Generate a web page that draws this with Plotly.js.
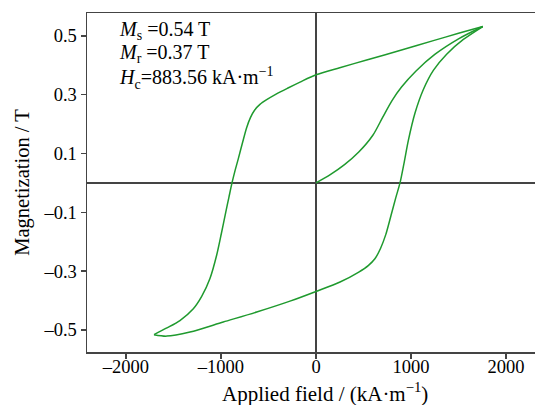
<!DOCTYPE html>
<html>
<head>
<meta charset="utf-8">
<script src="https://cdn.plot.ly/plotly-3.0.1.min.js"></script>
<style>
html,body{margin:0;padding:0;overflow:hidden;background:#fff;}
#chart{width:545px;height:405px;}
</style>
</head>
<body>
<div id="chart"></div>
<script>
// Descending (upper) branch of the loop, field in kA/m, magnetization in T
const upperH = [1755, 1500, 1235, 900, 533, 250, 0, -168, -300, -420, -519, -590, -645, -690, -730, -775, -818, -852, -884, -916, -950, -996, -1045, -1116, -1203, -1291, -1432, -1575, -1705];
const upperM = [0.532, 0.509, 0.484, 0.452, 0.418, 0.392, 0.368, 0.343, 0.322, 0.302, 0.283, 0.267, 0.248, 0.222, 0.188, 0.135, 0.082, 0.042, 0, -0.048, -0.1, -0.172, -0.245, -0.325, -0.386, -0.428, -0.468, -0.494, -0.516];
// Ascending (lower) branch
const lowerH = [-1705, -1572, -1326, -976, -624, -274, 0, 253, 450, 550, 620, 680, 735, 790, 840, 884, 925, 972, 1042, 1130, 1235, 1375, 1551, 1755];
const lowerM = [-0.516, -0.521, -0.507, -0.473, -0.439, -0.402, -0.369, -0.337, -0.303, -0.281, -0.258, -0.222, -0.175, -0.11, -0.05, 0, 0.065, 0.145, 0.238, 0.318, 0.383, 0.438, 0.488, 0.532];
// Initial magnetization curve
const initH = [0, 150, 300, 450, 600, 700, 800, 900, 1050, 1250, 1500, 1755];
const initM = [0, 0.028, 0.062, 0.105, 0.163, 0.222, 0.28, 0.326, 0.38, 0.437, 0.49, 0.532];

const xTicks = [-2000, -1000, 0, 1000, 2000];
const yTicks = [-0.5, -0.3, -0.1, 0.1, 0.3, 0.5];
const xTitle = "Applied field / (kA·m<sup>−1</sup>)";
const yTitle = "Magnetization / T";
const noteLines = [
  "<i>M</i><sub>s</sub> =0.54 T",
  "<i>M</i><sub>r</sub> =0.37 T",
  "<i>H</i><sub>c</sub>=883.56 kA·m<sup>−1</sup>"
];

const green = "#1f9a2e";
const lineStyle = {color: green, width: 1.5, shape: "spline", smoothing: 0.8};
const traces = [
  {x: upperH, y: upperM, mode: "lines", line: lineStyle, hoverinfo: "skip"},
  {x: lowerH, y: lowerM, mode: "lines", line: lineStyle, hoverinfo: "skip"},
  {x: initH, y: initM, mode: "lines", line: lineStyle, hoverinfo: "skip"}
];

const fam = "'Liberation Serif', 'Times New Roman', serif";
const tickFont = {family: fam, size: 18.5, color: "#000"};
const titleFont = {family: fam, size: 21, color: "#000"};
const yTitleFont = {family: fam, size: 20.5, color: "#000"};
const noteFont = {family: fam, size: 20, color: "#000"};
const axisColor = "#444";

const annotations = noteLines.map((t, i) => ({
  text: t, xref: "paper", yref: "paper",
  x: 0.066, y: 0.992 - i * 0.068,
  xanchor: "left", yanchor: "top", showarrow: false,
  font: noteFont
}));
annotations.push({
  text: xTitle, xref: "paper", yref: "paper",
  x: 0.522, y: -0.074, xanchor: "center", yanchor: "top",
  showarrow: false, font: titleFont
});

const layout = {
  width: 545, height: 405,
  margin: {l: 87, r: 2, t: 13, b: 53},
  paper_bgcolor: "#fff", plot_bgcolor: "#fff",
  showlegend: false,
  font: tickFont,
  xaxis: {
    range: [-2410, 2389],
    tickvals: xTicks,
    ticktext: xTicks.map(v => v < 0 ? "–" + Math.abs(v) : String(v)),
    ticks: "outside", ticklen: 5, tickwidth: 1.3, tickcolor: axisColor,
    ticklabelstandoff: -8,
    showline: true, linecolor: axisColor, linewidth: 1.5, mirror: true,
    showgrid: false,
    zeroline: true, zerolinecolor: axisColor, zerolinewidth: 1.5,
    tickfont: tickFont
  },
  yaxis: {
    range: [-0.575, 0.578],
    tickvals: yTicks,
    ticktext: yTicks.map(v => v < 0 ? "–" + Math.abs(v).toFixed(1) : v.toFixed(1)),
    ticks: "outside", ticklen: 5, tickwidth: 1.3, tickcolor: axisColor,
    showline: true, linecolor: axisColor, linewidth: 1.5, mirror: true,
    showgrid: false,
    zeroline: true, zerolinecolor: axisColor, zerolinewidth: 1.5,
    tickfont: tickFont,
    title: {text: yTitle, font: yTitleFont, standoff: 8}
  },
  annotations: annotations
};

Plotly.newPlot("chart", traces, layout, {staticPlot: true, displayModeBar: false});
</script>
</body>
</html>
